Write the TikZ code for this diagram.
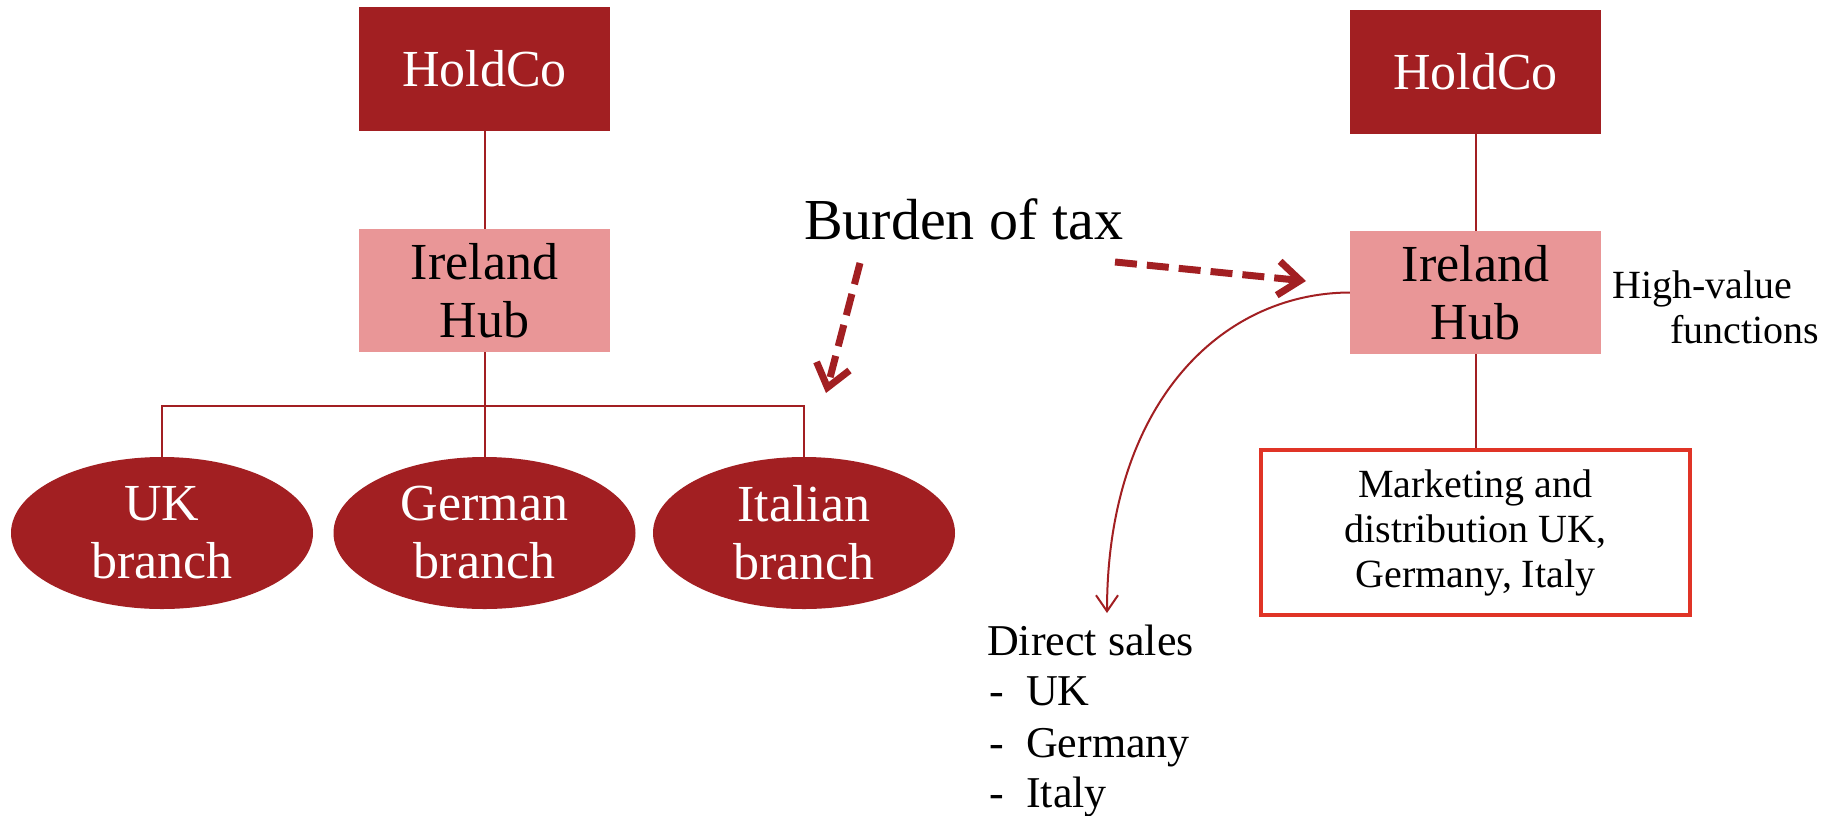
\documentclass[tikz,border=0pt]{standalone}
\usepackage{fontspec}
\setmainfont{Liberation Serif}
\usetikzlibrary{shapes.geometric,arrows.meta}

\definecolor{dkred}{RGB}{162,31,34}
\definecolor{hubpink}{RGB}{233,150,151}
\definecolor{mktred}{RGB}{224,52,38}

\newcommand\fsBox{\fontsize{52}{58}\selectfont}
\newcommand\fsBurden{\fontsize{58}{66}\selectfont}
\newcommand\fsSmall{\fontsize{40}{45}\selectfont}
\newcommand\fsList{\fontsize{44}{51}\selectfont}

\begin{document}
\begin{tikzpicture}[
  x=1pt, y=-1pt,
  darkbox/.style={rectangle, fill=dkred, text=white, minimum width=251pt,
    minimum height=124pt, inner sep=0pt, align=center, font=\fsBox},
  hubbox/.style={rectangle, fill=hubpink, text=black, minimum width=251pt,
    minimum height=123pt, inner sep=0pt, align=center, font=\fsBox},
  branchnode/.style={ellipse, fill=dkred, text=white, minimum width=302pt,
    minimum height=152pt, inner sep=0pt, align=center, font=\fsBox},
  mktbox/.style={rectangle, draw=mktred, line width=4pt, fill=white,
    minimum width=429pt, minimum height=165pt, inner sep=0pt, align=center,
    font=\fsSmall},
  link/.style={draw=dkred, line width=2pt},
  burdenarrow/.style={draw=dkred, line width=7pt, dash pattern=on 22pt off 10pt,
    -{Straight Barb[length=22pt,width=34pt]}},
  salesarrow/.style={draw=dkred, line width=2pt,
    -{Straight Barb[length=16pt,width=22pt]}},
  label/.style={anchor=base west, inner sep=0pt, text=black}
]
\useasboundingbox (0,0) rectangle (1839,815);
\fill[white] (0,0) rectangle (1839,815);

% ---- left structure: hub with three branches ----
\node[darkbox] (hold1) at (484.5,69) {HoldCo};
\node[hubbox] (ire1) at (484.5,290.5) {Ireland\\Hub};
\node[branchnode] (uk)  at (162,533)   {UK\\branch};
\node[branchnode] (ger) at (484.5,533) {German\\branch};
\node[branchnode] (ita) at (804,533)   {Italian\\branch};
\coordinate (split) at (484.5,406);

\draw[link] (hold1) -- (ire1);
\draw[link] (ire1) -- (ger);
\draw[link] (uk.north) |- (split) -| (ita.north);

% ---- right structure: hub with marketing entity ----
\node[darkbox] (hold2) at (1475.5,71.5) {HoldCo};
\node[hubbox] (ire2) at (1475.5,292.5) {Ireland\\Hub};
\node[mktbox] (mkt) at (1475.5,532.5) {Marketing and\\distribution UK,\\Germany, Italy};

\draw[link] (hold2) -- (ire2);
\draw[link] (ire2) -- (mkt);

\node[label, font=\fsSmall] (hv1) at (1612,298) {High-value};
\node[label, font=\fsSmall] (hv2) at (1670,343) {functions};

% ---- burden of tax ----
\node[label, font=\fsBurden] (burden) at (804,239) {Burden of tax};
\coordinate (b1start) at (860,263);
\coordinate (b1end)   at (826,393);
\coordinate (b2start) at (1115,262);
\coordinate (b2end)   at (1306,281);
\draw[burdenarrow] (b1start) -- (b1end);
\draw[burdenarrow] (b2start) -- (b2end);

% ---- direct sales ----
\coordinate (dsin) at (1107,613);
\draw[salesarrow] (ire2.west) .. controls (1220,293) and (1107,405) .. (dsin);

\node[label, font=\fsList] (ds)  at (987,655) {Direct sales};
\node[label, font=\fsList] (dsa) at (989,705) {\makebox[37pt][l]{-}UK};
\node[label, font=\fsList] (dsb) at (989,757) {\makebox[37pt][l]{-}Germany};
\node[label, font=\fsList] (dsc) at (989,807) {\makebox[37pt][l]{-}Italy};
\end{tikzpicture}
\end{document}
